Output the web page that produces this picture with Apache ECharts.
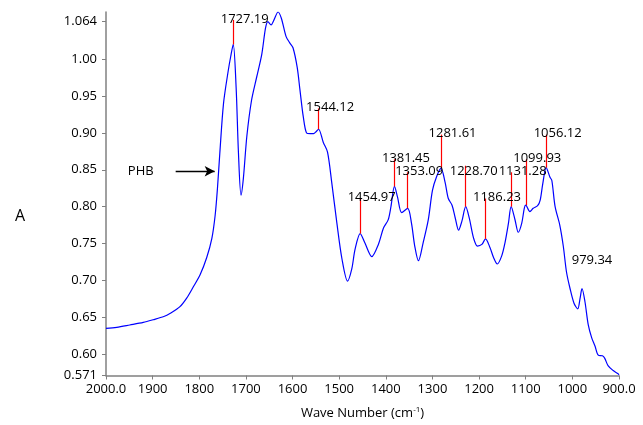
<!DOCTYPE html>
<html>
<head>
<meta charset="utf-8">
<script src="https://cdn.jsdelivr.net/npm/echarts@6/dist/echarts.min.js"></script>
<style>
html,body{margin:0;padding:0;background:#fff;}
#chart{width:643px;height:425px;}
</style>
</head>
<body>
<div id="chart"></div>
<script>
const wavenumber = [2000,1977,1949,1920,1899,1876,1862,1842,1827,1813,1798,1784,1773,1766,1761,1756,1748,1738,1732.5,1727.19,1721,1716,1710.5,1705.5,1698,1688,1677,1666,1658,1653,1646,1640,1631,1624,1614,1606,1599,1590,1584,1577,1570,1562,1555,1549,1544.12,1534,1525,1516,1505,1494,1482,1473,1466,1454.97,1445,1430,1416,1405,1395,1389,1381.45,1375,1366,1353.09,1345,1338,1330,1320,1309,1300,1291,1281.61,1273,1266,1258,1251,1244,1237,1228.70,1221,1212,1203.5,1194,1186.23,1176.5,1169,1161,1151.5,1144.5,1137,1131.28,1123,1116,1108.5,1103,1099.93,1091,1084,1074.5,1069,1063.5,1056.12,1048,1044,1037,1027,1019.5,1012.5,1005,996.5,988.5,983.5,979.34,973,966,958.5,951.5,944.5,935.5,930.5,923.5,912.5,902,900];
const absorbance = [0.635,0.6363,0.6395,0.643,0.6466,0.651,0.6555,0.664,0.676,0.691,0.708,0.731,0.757,0.788,0.825,0.872,0.940,0.984,1.004,1.020,0.962,0.873,0.8155,0.838,0.8955,0.944,0.9755,1.0066,1.042,1.051,1.0466,1.053,1.064,1.0555,1.031,1.0222,1.0155,0.9888,0.9577,0.922,0.900,0.899,0.899,0.902,0.905,0.887,0.874,0.833,0.778,0.729,0.699,0.7155,0.742,0.7635,0.751,0.7323,0.7488,0.771,0.782,0.800,0.8275,0.8133,0.792,0.7977,0.7777,0.7466,0.7266,0.751,0.782,0.822,0.841,0.852,0.8333,0.811,0.802,0.7843,0.768,0.780,0.800,0.7843,0.7577,0.7466,0.7488,0.7563,0.7443,0.731,0.7222,0.7333,0.751,0.7777,0.800,0.7822,0.7653,0.7777,0.798,0.802,0.7933,0.7977,0.8013,0.8089,0.831,0.853,0.840,0.8355,0.800,0.775,0.7466,0.711,0.689,0.669,0.6613,0.6755,0.689,0.671,0.640,0.622,0.611,0.5986,0.5977,0.5942,0.5843,0.5777,0.5733,0.572];

const peakWn = [1727.19,1544.12,1454.97,1381.45,1353.09,1281.61,1228.70,1186.23,1131.28,1099.93,1056.12];
const peakAbs = [1.020,0.905,0.7635,0.8275,0.7977,0.852,0.800,0.7563,0.800,0.802,0.853];
const leaderTop = [1.0533,0.9333,0.811,0.8643,0.8466,0.8977,0.8555,0.811,0.8466,0.8643,0.8977];
const peakLabels = ['1727.19','1544.12','1454.97','1381.45','1353.09','1281.61','1228.70','1186.23','1131.28','1099.93','1056.12'];
const extraWn = [979.34];
const extraAbs = [0.7275];
const extraLabels = ['979.34'];

const yTickValues = [0.571,0.60,0.65,0.70,0.75,0.80,0.85,0.90,0.95,1.00,1.051];
const yTickLabels = ['0.571','0.60','0.65','0.70','0.75','0.80','0.85','0.90','0.95','1.00','1.064'];
const xTickLabels = {2000:'2000.0',1900:'1900',1800:'1800',1700:'1700',1600:'1600',1500:'1500',1400:'1400',1300:'1300',1200:'1200',1100:'1100',1000:'1000',900:'900.0'};

const phbArrow = {from:[1850.6,0.848], to:[1767,0.848], text:'PHB'};

const FONT = '"Open Sans", "Noto Sans", sans-serif';
const TXT = '#000000';
const AXC = '#808080';
const RED = '#ff0000';

const chart = echarts.init(document.getElementById('chart'), null, {renderer:'canvas'});

const spectrum = wavenumber.map((w,i)=>[w, absorbance[i]]);
const leaders = peakWn.map((w,i)=>[
  {coord:[w, peakAbs[i]], lineStyle:{color:RED, width:1.2, type:'solid', opacity:1}},
  {coord:[w, leaderTop[i]]}
]);
const labelPts = peakWn.map((w,i)=>{
  const item = {coord:[w, leaderTop[i]], value: peakLabels[i]};
  if (peakLabels[i]==='1228.70') item.label = {offset:[8,6]};
  return item;
}).concat(extraWn.map((w,i)=>({coord:[w, extraAbs[i]], value: extraLabels[i], label:{offset:[10,0]}})));

chart.setOption({
  animation:false,
  grid:{left:106, right:24, top:12, bottom:43.3, containLabel:false},
  xAxis:{
    type:'value', inverse:true, min:900, max:2000, interval:100,
    name:'Wave Number (cm{s|-1})', nameLocation:'middle', nameGap:30,
    nameTextStyle:{fontFamily:FONT, fontSize:13, color:TXT,
      rich:{s:{fontFamily:FONT, fontSize:8, color:TXT, padding:[0,0,8,0]}}},
    axisLine:{show:true, onZero:false, lineStyle:{color:AXC, width:1.5}},
    axisTick:{show:true, length:4, lineStyle:{color:AXC, width:1}},
    axisLabel:{fontFamily:FONT, fontSize:13, color:TXT, margin:7,
      formatter:v=>xTickLabels[v]!==undefined?xTickLabels[v]:String(v)},
    splitLine:{show:false}
  },
  yAxis:{
    type:'value', min:0.571, max:1.064,
    axisLine:{show:true, onZero:false, lineStyle:{color:AXC, width:1.5}},
    axisTick:{show:true, length:4, customValues:yTickValues, lineStyle:{color:AXC, width:1}},
    axisLabel:{fontFamily:FONT, fontSize:13, color:TXT, margin:9, customValues:yTickValues,
      formatter:v=>{const i=yTickValues.findIndex(t=>Math.abs(t-v)<1e-6);return i>=0?yTickLabels[i]:'';}},
    splitLine:{show:false}
  },
  graphic:[{type:'text', left:15, top:208, style:{text:'A', font:'16px '+FONT, fill:TXT}}],
  series:[
    {
      type:'line', data:spectrum, showSymbol:false, smooth:0.3,
      lineStyle:{color:'#0000ff', width:1.2}, z:3,
      markLine:{
        silent:true, animation:false,
        data: leaders.concat([[{coord:phbArrow.from, symbol:'none', lineStyle:{color:'#000', width:1.3},
              label:{show:true, position:'start', formatter:phbArrow.text, distance:22, fontFamily:FONT, fontSize:13, color:TXT}},
            {coord:phbArrow.to, symbol:'arrow', symbolSize:[8,10]}]]),
        symbol:['none','none'],
        lineStyle:{color:RED, width:1.2, type:'solid', opacity:1},
        label:{show:false}
      },
      markPoint:{
        silent:true, animation:false,
        symbol:'circle', symbolSize:0.01,
        itemStyle:{color:'rgba(0,0,0,0)'},
        data: labelPts,
        label:{show:true, position:'inside', offset:[11.5,-1], formatter:p=>p.value,
          fontFamily:FONT, fontSize:13, color:TXT, textBorderWidth:0, opacity:1}
      }
    }
  ]
});
</script>
</body>
</html>
